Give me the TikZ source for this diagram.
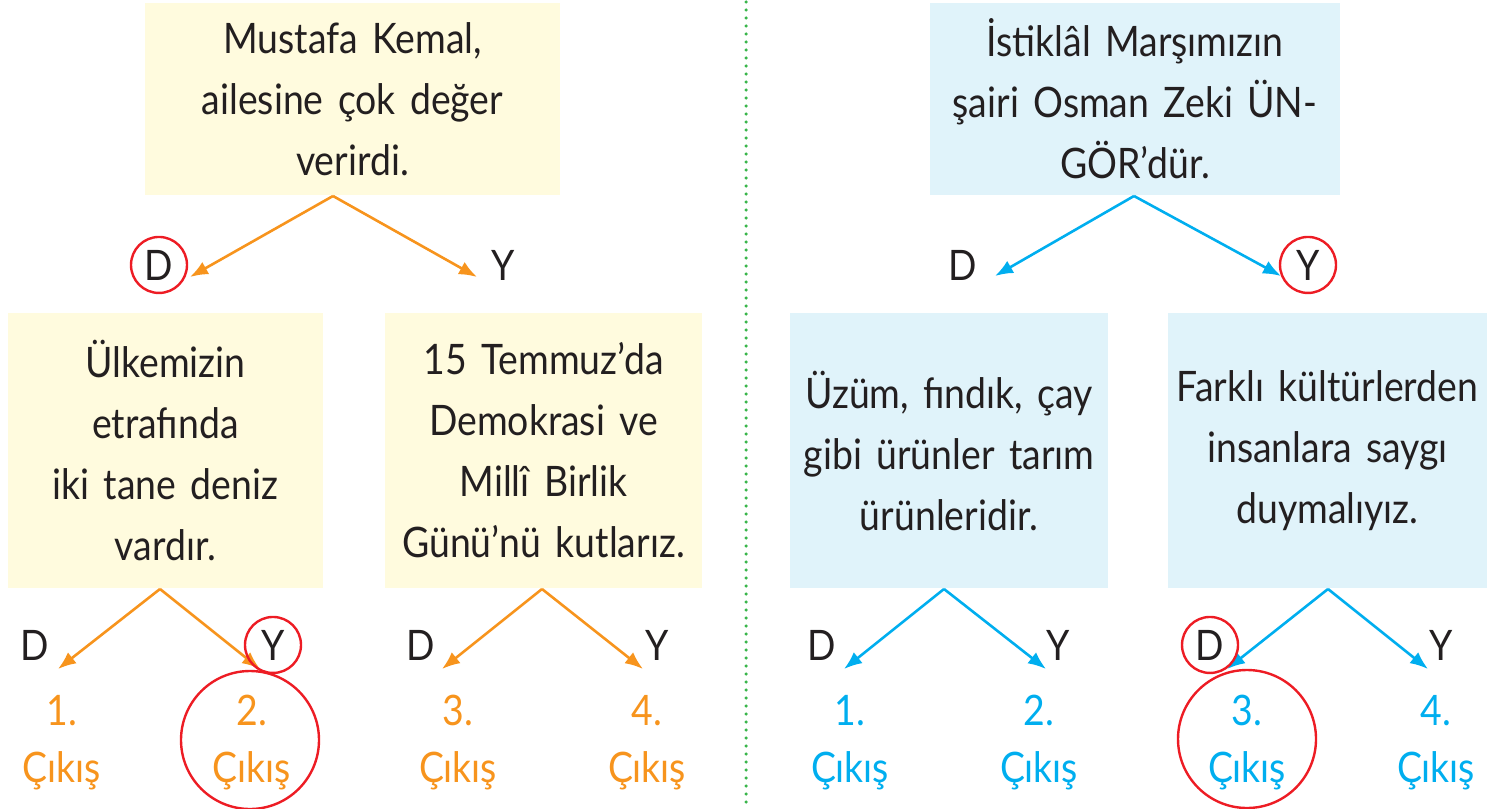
\documentclass[tikz,border=0pt]{standalone}
\usepackage{fontspec}
\setmainfont{Lato}[FakeStretch=0.89, WordSpace=1.5]
\usepackage{tikz}
\usetikzlibrary{positioning,arrows.meta}
\definecolor{ink}{HTML}{231F20}
\definecolor{paleyellow}{HTML}{FFFBDE}
\definecolor{paleblue}{HTML}{E0F3FA}
\definecolor{arrorange}{HTML}{F7941D}
\definecolor{arrblue}{HTML}{00AEEF}
\definecolor{ringred}{HTML}{ED1C24}
\definecolor{sepgreen}{HTML}{39B54A}
\newcommand\boxfont{\fontsize{42}{61}\selectfont}

\begin{document}
\begin{tikzpicture}[
  x=1pt, y=-1pt,
  ybox/.style={fill=paleyellow, inner sep=0pt, align=center, font=\boxfont, text=ink},
  bbox/.style={fill=paleblue, inner sep=0pt, align=center, font=\boxfont, text=ink},
  lbl/.style={anchor=base, inner sep=0pt, font=\boxfont, text=ink},
  exitlbl/.style={anchor=base, inner sep=0pt, font=\boxfont},
  oarr/.style={-{Latex[length=18pt,width=14pt]}, line width=2.6pt, color=arrorange},
  barr/.style={-{Latex[length=18pt,width=14pt]}, line width=2.6pt, color=arrblue},
  ring/.style={draw=ringred, line width=2.4pt},
  sepline/.style={draw=sepgreen, line width=3.5pt, line cap=round, dash pattern=on 0pt off 8pt}
]
\useasboundingbox (0,0) rectangle (1495,808);

\node[ybox, minimum width=415pt, minimum height=192pt] (kemal) at (352.5,99) {Mustafa Kemal,\\ailesine çok değer\\verirdi.};
\node[ybox, minimum width=315pt, minimum height=275pt] (ulke) at (165.5,450.5) {Ülkemizin\\etrafında\\iki tane deniz\\vardır.};
\node[ybox, minimum width=317pt, minimum height=275pt] (temmuz) at (543.5,450.5) {15 Temmuz’da\\Demokrasi ve\\Millî Birlik\\Günü’nü kutlarız.};
\node[bbox, minimum width=410pt, minimum height=192pt] (istiklal) at (1135,99) {İstiklâl Marşımızın\\şairi Osman Zeki ÜN-\\GÖR’dür.};
\node[bbox, minimum width=318pt, minimum height=275pt] (uzum) at (949,450.5) {Üzüm, fındık, çay\\gibi ürünler tarım\\ürünleridir.};
\node[bbox, minimum width=319pt, minimum height=275pt] (farkli) at (1327.5,450.5) {Farklı kültürlerden\\insanlara saygı\\duymalıyız.};

\node[lbl] (kemalD) at (159,280) {D};
\node[lbl] (kemalY) at (503,280) {Y};
\node[lbl] (istiklalD) at (963,280) {D};
\node[lbl] (istiklalY) at (1308,280) {Y};
\node[lbl] (ulkeD) at (35,660) {D};
\node[lbl] (ulkeY) at (273,660) {Y};
\node[lbl] (temmuzD) at (421,660) {D};
\node[lbl] (temmuzY) at (657,660) {Y};
\node[lbl] (uzumD) at (822,660) {D};
\node[lbl] (uzumY) at (1058,660) {Y};
\node[lbl] (farkliD) at (1210,660) {D};
\node[lbl] (farkliY) at (1441,660) {Y};

\foreach \n/\x in {1/62, 2/252, 3/458, 4/647} {
  \node[exitlbl, text=arrorange] (onum\n) at (\x,725) {\n.};
  \node[exitlbl, text=arrorange] (oexit\n) at (\x,782) {Çıkış};
}
\foreach \n/\x in {1/850, 2/1039, 3/1247, 4/1436} {
  \node[exitlbl, text=arrblue] (bnum\n) at (\x,725) {\n.};
  \node[exitlbl, text=arrblue] (bexit\n) at (\x,782) {Çıkış};
}

\coordinate (kemal-top) at (333,196);
\coordinate (kemal-l) at (190,277);
\coordinate (kemal-r) at (477,277);
\coordinate (istiklal-top) at (1134,196);
\coordinate (istiklal-l) at (995,276);
\coordinate (istiklal-r) at (1281,276);
\coordinate (ulke-top) at (160,589);
\coordinate (ulke-l) at (58,669);
\coordinate (ulke-r) at (260,669);
\coordinate (temmuz-top) at (542,589);
\coordinate (temmuz-l) at (442,669);
\coordinate (temmuz-r) at (643,669);
\coordinate (uzum-top) at (944,589);
\coordinate (uzum-l) at (844,669);
\coordinate (uzum-r) at (1046,669);
\coordinate (farkli-top) at (1328,589);
\coordinate (farkli-l) at (1227,669);
\coordinate (farkli-r) at (1428,669);

\foreach \b in {kemal, ulke, temmuz} {
  \draw[oarr] (\b-top) -- (\b-l);
  \draw[oarr] (\b-top) -- (\b-r);
}
\foreach \b in {istiklal, uzum, farkli} {
  \draw[barr] (\b-top) -- (\b-l);
  \draw[barr] (\b-top) -- (\b-r);
}

\draw[ring] (kemalD.center) circle[radius=28pt];
\draw[ring] (istiklalY.center) circle[radius=28pt];
\draw[ring] (ulkeY.center) circle[radius=28pt];
\draw[ring] (farkliD.center) circle[radius=28pt];
\draw[ring] (250,740) circle[radius=69pt];
\draw[ring] (1247,739) circle[radius=69pt];

\draw[sepline] (746,2) -- (746,806);
\end{tikzpicture}
\end{document}
